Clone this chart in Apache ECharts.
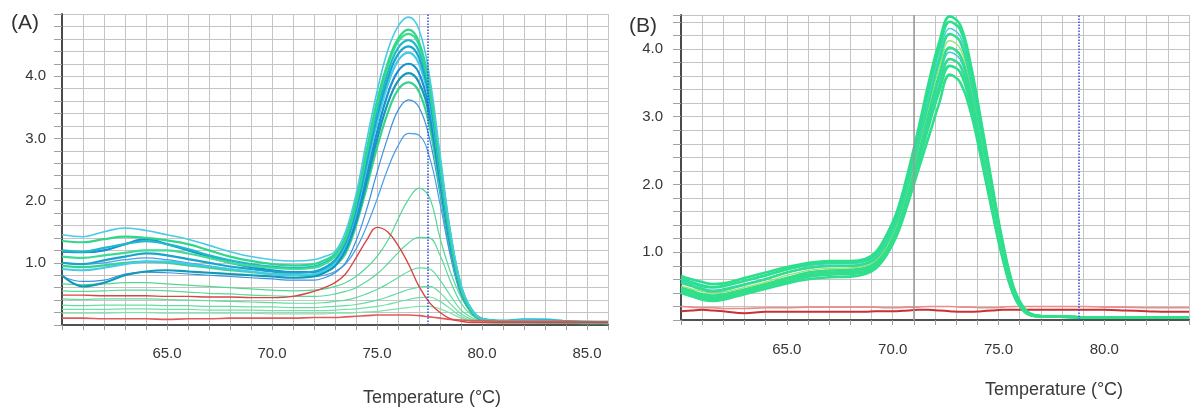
<!DOCTYPE html>
<html>
<head>
<meta charset="utf-8">
<script src="https://cdn.jsdelivr.net/npm/echarts@6/dist/echarts.min.js"></script>
<style>
  html, body { margin: 0; padding: 0; background: #fff; }
  #main { width: 1192px; height: 410px; }
</style>
</head>
<body>
<div id="main"></div>
<script>
const tempsA = [60, 61, 62, 63, 64, 65, 66, 67, 68, 69, 70, 71, 72,
  72.5, 73, 73.5, 74, 74.5, 75, 75.5, 76, 76.5, 77, 77.5, 78, 78.5, 79, 79.5, 80,
  81, 82, 83, 84, 85, 86];
const tempsB = [60, 60.5, 61, 61.5, 62, 63, 64, 65, 66, 67, 68,
  68.7, 69.2, 69.7, 70.2, 70.7, 71.2, 71.7, 72.2, 72.7, 73.2, 73.7, 74.2, 74.7, 75.2, 75.7, 76.2, 76.7,
  77.5, 78, 79, 80, 81, 82, 83, 84];

// panel A, -dF/dT
const a1 = [1.45,1.42,1.50,1.56,1.52,1.45,1.38,1.28,1.18,1.10,1.05,1.03,1.05, 1.10,1.18,1.50,2.10,2.95,3.75,4.40,4.80,4.95,4.75,4.00,2.75,1.50,0.65,0.25,0.10, 0.06,0.08,0.07,0.05,0.04,0.04];
const a2 = [1.35,1.33,1.38,1.42,1.40,1.36,1.30,1.20,1.10,1.03,0.98,0.96,0.98, 1.04,1.14,1.42,2.00,2.80,3.60,4.20,4.60,4.75,4.55,3.85,2.65,1.45,0.62,0.24,0.10, 0.06,0.05,0.05,0.04,0.04,0.03];
const a3 = [1.10,1.08,1.12,1.16,1.20,1.20,1.15,1.08,1.00,0.95,0.92,0.90,0.92, 0.98,1.10,1.38,1.95,2.75,3.55,4.15,4.55,4.68,4.50,3.80,2.60,1.42,0.60,0.23,0.09, 0.05,0.05,0.04,0.04,0.03,0.03];
const a4 = [1.20,1.18,1.24,1.30,1.35,1.30,1.22,1.12,1.04,0.98,0.94,0.92,0.94, 1.00,1.12,1.40,1.95,2.70,3.45,4.05,4.45,4.58,4.40,3.75,2.60,1.42,0.62,0.25,0.10, 0.07,0.09,0.08,0.06,0.05,0.05];
const a5 = [1.00,0.98,1.04,1.10,1.15,1.12,1.06,1.00,0.94,0.90,0.86,0.84,0.86, 0.92,1.04,1.32,1.85,2.60,3.35,3.95,4.35,4.48,4.30,3.65,2.50,1.38,0.60,0.24,0.10, 0.06,0.07,0.07,0.05,0.05,0.04];
const a6 = [0.90,0.88,0.92,0.98,1.02,1.02,0.98,0.94,0.90,0.86,0.82,0.80,0.82, 0.88,1.00,1.28,1.80,2.52,3.25,3.85,4.25,4.38,4.20,3.58,2.45,1.35,0.58,0.23,0.09, 0.06,0.08,0.09,0.06,0.05,0.05];
const a7 = [1.18,1.17,1.20,1.30,1.38,1.30,1.20,1.10,1.00,0.93,0.88,0.85,0.85, 0.90,1.00,1.22,1.70,2.40,3.10,3.70,4.08,4.20,4.05,3.45,2.35,1.30,0.56,0.22,0.09, 0.06,0.07,0.06,0.05,0.04,0.04];
const a8 = [0.80,0.62,0.68,0.80,0.86,0.88,0.86,0.84,0.82,0.80,0.78,0.76,0.78, 0.84,0.95,1.20,1.65,2.30,2.98,3.55,3.92,4.05,3.90,3.35,2.30,1.28,0.55,0.22,0.09, 0.06,0.06,0.06,0.05,0.04,0.04];
const a9 = [0.95,0.93,0.96,1.00,1.02,1.00,0.96,0.92,0.88,0.85,0.82,0.80,0.80, 0.85,0.95,1.15,1.60,2.20,2.85,3.40,3.78,3.90,3.75,3.20,2.20,1.22,0.52,0.20,0.08, 0.05,0.05,0.05,0.04,0.04,0.03];
const a10 = [0.78,0.70,0.72,0.82,0.85,0.84,0.82,0.80,0.78,0.76,0.74,0.72,0.72, 0.76,0.84,1.00,1.35,1.85,2.45,3.00,3.45,3.62,3.50,3.00,2.10,1.15,0.50,0.20,0.08, 0.05,0.06,0.05,0.04,0.04,0.04];
const a11 = [1.00,0.98,1.00,1.05,1.08,1.05,1.00,0.95,0.90,0.86,0.82,0.80,0.78, 0.80,0.86,0.98,1.22,1.58,2.02,2.50,2.88,3.08,3.05,2.70,1.95,1.10,0.48,0.20,0.08, 0.05,0.06,0.05,0.04,0.04,0.04];
// low light-green curves
const l1 = [0.66,0.65,0.66,0.68,0.68,0.66,0.64,0.62,0.60,0.58,0.56,0.55,0.56, 0.58,0.62,0.68,0.78,0.92,1.10,1.35,1.70,2.02,2.20,2.05,1.40,0.85,0.45,0.20,0.10, 0.05,0.05,0.04,0.04,0.03,0.03];
const l2 = [0.55,0.54,0.55,0.56,0.56,0.55,0.53,0.51,0.50,0.48,0.47,0.46,0.46, 0.47,0.50,0.54,0.60,0.70,0.82,0.98,1.16,1.32,1.41,1.40,1.12,0.70,0.35,0.16,0.08, 0.05,0.04,0.04,0.04,0.03,0.03];
const l3 = [0.42,0.41,0.42,0.42,0.42,0.41,0.40,0.39,0.38,0.37,0.36,0.35,0.35, 0.36,0.38,0.40,0.44,0.50,0.57,0.66,0.76,0.86,0.92,0.90,0.72,0.47,0.24,0.12,0.06, 0.04,0.04,0.04,0.03,0.03,0.03];
const l4 = [0.32,0.31,0.32,0.32,0.32,0.31,0.31,0.30,0.30,0.29,0.29,0.28,0.28, 0.29,0.30,0.31,0.33,0.36,0.40,0.45,0.51,0.57,0.61,0.62,0.52,0.34,0.18,0.09,0.05, 0.04,0.04,0.03,0.03,0.03,0.03];
const l5 = [0.25,0.25,0.25,0.26,0.26,0.25,0.25,0.24,0.24,0.24,0.23,0.23,0.23, 0.23,0.24,0.25,0.26,0.28,0.30,0.33,0.37,0.41,0.44,0.45,0.38,0.26,0.14,0.07,0.04, 0.03,0.03,0.03,0.03,0.03,0.03];
const l6 = [0.19,0.19,0.19,0.20,0.20,0.19,0.19,0.19,0.19,0.19,0.18,0.18,0.18, 0.18,0.19,0.19,0.20,0.21,0.22,0.24,0.26,0.28,0.30,0.30,0.26,0.19,0.11,0.06,0.04, 0.03,0.03,0.03,0.03,0.03,0.03];
// red (negative control / primer-dimer)
const r1 = [0.48,0.48,0.47,0.47,0.47,0.46,0.46,0.45,0.45,0.44,0.44,0.46,0.54, 0.60,0.68,0.82,1.08,1.36,1.57,1.50,1.28,0.98,0.62,0.36,0.20,0.10,0.06,0.04,0.04, 0.04,0.04,0.04,0.04,0.04,0.04];
const r2 = [0.11,0.11,0.10,0.10,0.10,0.09,0.10,0.10,0.11,0.11,0.11,0.11,0.12, 0.12,0.12,0.13,0.14,0.15,0.16,0.16,0.16,0.16,0.15,0.13,0.11,0.09,0.08,0.07,0.07, 0.06,0.06,0.06,0.06,0.05,0.05];

// panel B
const b1 = [0.65,0.60,0.56,0.53,0.54, 0.62,0.70,0.78,0.84,0.87,0.87, 0.90,1.00,1.25,1.60,2.15,2.80,3.50,4.10,4.48,4.35,3.75,2.90,2.00,1.15,0.50,0.18,0.07, 0.05,0.05,0.04,0.04,0.04,0.04,0.04,0.04];
const b2 = [0.60,0.55,0.50,0.48,0.50, 0.58,0.66,0.75,0.82,0.85,0.85, 0.88,0.97,1.20,1.55,2.08,2.72,3.40,4.00,4.40,4.28,3.68,2.85,1.95,1.12,0.48,0.17,0.07, 0.05,0.05,0.04,0.04,0.04,0.04,0.04,0.04];
const b3 = [0.62,0.57,0.52,0.49,0.50, 0.57,0.65,0.74,0.80,0.83,0.83, 0.86,0.94,1.16,1.50,2.02,2.64,3.30,3.90,4.30,4.18,3.60,2.78,1.90,1.08,0.46,0.16,0.07, 0.05,0.05,0.04,0.04,0.04,0.04,0.04,0.04];
const b4 = [0.55,0.50,0.45,0.42,0.44, 0.52,0.60,0.70,0.77,0.80,0.80, 0.83,0.91,1.12,1.46,1.97,2.58,3.22,3.82,4.22,4.10,3.52,2.72,1.85,1.05,0.45,0.16,0.07, 0.05,0.05,0.04,0.04,0.04,0.04,0.04,0.04];
const b5 = [0.50,0.46,0.42,0.40,0.41, 0.48,0.56,0.66,0.73,0.76,0.77, 0.80,0.88,1.08,1.42,1.92,2.52,3.15,3.72,4.12,4.00,3.45,2.66,1.80,1.02,0.44,0.15,0.06, 0.05,0.05,0.04,0.04,0.04,0.04,0.04,0.04];
const b6 = [0.48,0.43,0.38,0.36,0.38, 0.45,0.53,0.62,0.70,0.73,0.74, 0.77,0.85,1.04,1.38,1.86,2.45,3.06,3.62,4.02,3.90,3.36,2.58,1.75,0.99,0.42,0.15,0.06, 0.05,0.05,0.04,0.04,0.04,0.04,0.04,0.04];
const b7 = [0.58,0.52,0.47,0.44,0.46, 0.53,0.61,0.70,0.76,0.79,0.79, 0.82,0.89,1.08,1.40,1.86,2.42,3.00,3.56,3.95,3.84,3.30,2.54,1.72,0.97,0.41,0.14,0.06, 0.05,0.05,0.04,0.04,0.04,0.04,0.04,0.04];
const b8 = [0.45,0.40,0.35,0.33,0.35, 0.42,0.50,0.59,0.67,0.70,0.71, 0.74,0.82,1.00,1.32,1.78,2.35,2.93,3.46,3.85,3.75,3.22,2.48,1.68,0.95,0.40,0.14,0.06, 0.05,0.05,0.04,0.04,0.04,0.04,0.04,0.04];
const b9 = [0.42,0.37,0.33,0.31,0.32, 0.40,0.48,0.56,0.64,0.67,0.68, 0.71,0.79,0.97,1.28,1.74,2.28,2.85,3.37,3.75,3.65,3.14,2.42,1.64,0.92,0.39,0.13,0.06, 0.05,0.05,0.04,0.04,0.04,0.04,0.04,0.04];
const b10 = [0.40,0.35,0.30,0.28,0.30, 0.38,0.46,0.54,0.60,0.63,0.64, 0.68,0.76,0.95,1.25,1.70,2.20,2.70,3.20,3.62,3.50,3.05,2.35,1.60,0.90,0.38,0.13,0.06, 0.05,0.05,0.04,0.04,0.04,0.04,0.04,0.04];
const br1 = [0.13,0.14,0.15,0.14,0.13, 0.10,0.12,0.12,0.12,0.12,0.12, 0.12,0.13,0.13,0.13,0.14,0.15,0.15,0.14,0.13,0.12,0.12,0.13,0.14,0.15,0.15,0.15,0.15, 0.15,0.15,0.15,0.15,0.14,0.13,0.12,0.12];
const br2 = [0.20,0.19,0.18,0.18,0.17, 0.17,0.18,0.18,0.19,0.19,0.19, 0.19,0.19,0.18,0.18,0.19,0.19,0.20,0.20,0.20,0.19,0.19,0.18,0.18,0.19,0.20,0.20,0.20, 0.20,0.20,0.20,0.19,0.19,0.18,0.18,0.18];

// cursor lines
const cursorA = 77.4;
const cursorB = 78.8;
const markB = 71;

const font = 'Liberation Sans, Arial, sans-serif';

function pairs(ts, vs) {
  return ts.map((t, i) => [t, vs[i]]);
}

function curve(ts, vs, color, width, gi) {
  return {
    type: 'line',
    xAxisIndex: gi === 0 ? 0 : 2,
    yAxisIndex: gi,
    data: pairs(ts, vs),
    smooth: 0.4,
    showSymbol: false,
    silent: true,
    lineStyle: { color: color, width: width },
    z: 3
  };
}

function bottomAxis(min, max, gi, margin) {
  return {
    type: 'value', gridIndex: gi, min: min, max: max, interval: 1,
    axisLine: { show: true, onZero: false, lineStyle: { color: '#454545', width: 2 } },
    axisTick: { show: true, length: 5, lineStyle: { color: '#9a9a9a' } },
    axisLabel: {
      margin: margin, color: '#363636', fontSize: 15, fontFamily: font,
      formatter: v => (v % 5 === 0 && v > 60) ? v.toFixed(1) : ''
    },
    splitLine: { show: true, lineStyle: { color: '#c4c4c4', width: 1 } }
  };
}

function topAxis(min, max, gi) {
  return {
    type: 'value', gridIndex: gi, min: min, max: max, position: 'top',
    axisLine: { show: true, lineStyle: { color: '#505050', width: 2 } },
    axisTick: { show: false }, axisLabel: { show: false }, splitLine: { show: false }
  };
}

function leftAxis(max, gi, margin) {
  return {
    type: 'value', gridIndex: gi, min: 0, max: max, interval: 0.2,
    axisLine: { show: true, lineStyle: { color: '#4a4a4a', width: 2 } },
    axisTick: { show: true, length: 8, lineStyle: { color: '#a0a0a0' } },
    axisLabel: {
      margin: margin, color: '#363636', fontSize: 15, fontFamily: font,
      formatter: v => {
        const r = Math.round(v);
        return (Math.abs(v - r) < 1e-6 && r >= 1 && r <= 4) ? r.toFixed(1) : '';
      }
    },
    splitLine: { show: true, lineStyle: { color: '#c4c4c4', width: 1 } }
  };
}

const seriesA = [
  curve(tempsA, l6, '#7fe3ad', 1.2, 0),
  curve(tempsA, l5, '#6fe0a6', 1.2, 0),
  curve(tempsA, l4, '#66dda0', 1.2, 0),
  curve(tempsA, l3, '#5fdc9c', 1.2, 0),
  curve(tempsA, l2, '#58d998', 1.2, 0),
  curve(tempsA, l1, '#52d894', 1.2, 0),
  curve(tempsA, a11, '#4b9de8', 1.2, 0),
  curve(tempsA, a10, '#3a8fe2', 1.2, 0),
  curve(tempsA, a9, '#35d38d', 2.2, 0),
  curve(tempsA, a8, '#1399b8', 2.2, 0),
  curve(tempsA, a7, '#1a8fd2', 2.2, 0),
  curve(tempsA, a6, '#44c9e6', 2.2, 0),
  curve(tempsA, a5, '#17a5c9', 2.2, 0),
  curve(tempsA, a4, '#1fb9cd', 2.2, 0),
  curve(tempsA, a3, '#3ddb93', 2.2, 0),
  curve(tempsA, a2, '#2fd68c', 2.2, 0),
  curve(tempsA, a1, '#48cbe8', 1.6, 0),
  curve(tempsA, r2, '#e05a5a', 1.6, 0),
  curve(tempsA, r1, '#d84545', 1.4, 0)
];
seriesA[seriesA.length - 1].markLine = {
  silent: true, symbol: 'none', label: { show: false },
  lineStyle: { color: '#2f4fd8', type: 'dotted', width: 1.5 },
  data: [{ xAxis: cursorA }]
};

const seriesB = [
  curve(tempsB, br2, '#f08a8a', 1.6, 1),
  curve(tempsB, br1, '#c83232', 2, 1),
  curve(tempsB, b10, '#2fdf8c', 2.6, 1),
  curve(tempsB, b9, '#2ee08c', 2.6, 1),
  curve(tempsB, b8, '#34dd8e', 2.6, 1),
  curve(tempsB, b7, '#3cc9d8', 1.5, 1),
  curve(tempsB, b6, '#2ee08a', 2.6, 1),
  curve(tempsB, b5, '#9be072', 1.3, 1),
  curve(tempsB, b4, '#30de8c', 2.6, 1),
  curve(tempsB, b3, '#44cfe2', 1.5, 1),
  curve(tempsB, b2, '#2be08a', 2.6, 1),
  curve(tempsB, b1, '#2ddf8b', 2.6, 1)
];
seriesB[0].markLine = {
  silent: true, symbol: 'none', label: { show: false },
  data: [
    { xAxis: markB, lineStyle: { color: '#9a9a9a', type: 'solid', width: 1.5 } },
    { xAxis: cursorB, lineStyle: { color: '#2f4fd8', type: 'dotted', width: 1.5 } }
  ]
};

const chart = echarts.init(document.getElementById('main'));
chart.setOption({
  animation: false,
  backgroundColor: '#ffffff',
  grid: [
    { left: 62, top: 14, width: 546, height: 311 },
    { left: 681, top: 15, width: 511, height: 305 }
  ],
  xAxis: [
    bottomAxis(60, 86, 0, 21),
    topAxis(60, 86, 0),
    bottomAxis(60, 84, 1, 22),
    topAxis(60, 84, 1)
  ],
  yAxis: [
    leftAxis(5, 0, 16),
    leftAxis(4.5, 1, 18)
  ],
  graphic: [
    { type: 'text', left: 11, top: 13, style: { text: '(A)', font: '21px ' + font, fill: '#333' } },
    { type: 'text', left: 629, top: 16, style: { text: '(B)', font: '21px ' + font, fill: '#333' } },
    { type: 'text', x: 432, y: 398, style: { text: 'Temperature (°C)', font: '18px ' + font, fill: '#3a3a3a', align: 'center', verticalAlign: 'middle' } },
    { type: 'text', x: 1054, y: 390, style: { text: 'Temperature (°C)', font: '18px ' + font, fill: '#3a3a3a', align: 'center', verticalAlign: 'middle' } }
  ],
  series: seriesA.concat(seriesB)
});
</script>
</body>
</html>
